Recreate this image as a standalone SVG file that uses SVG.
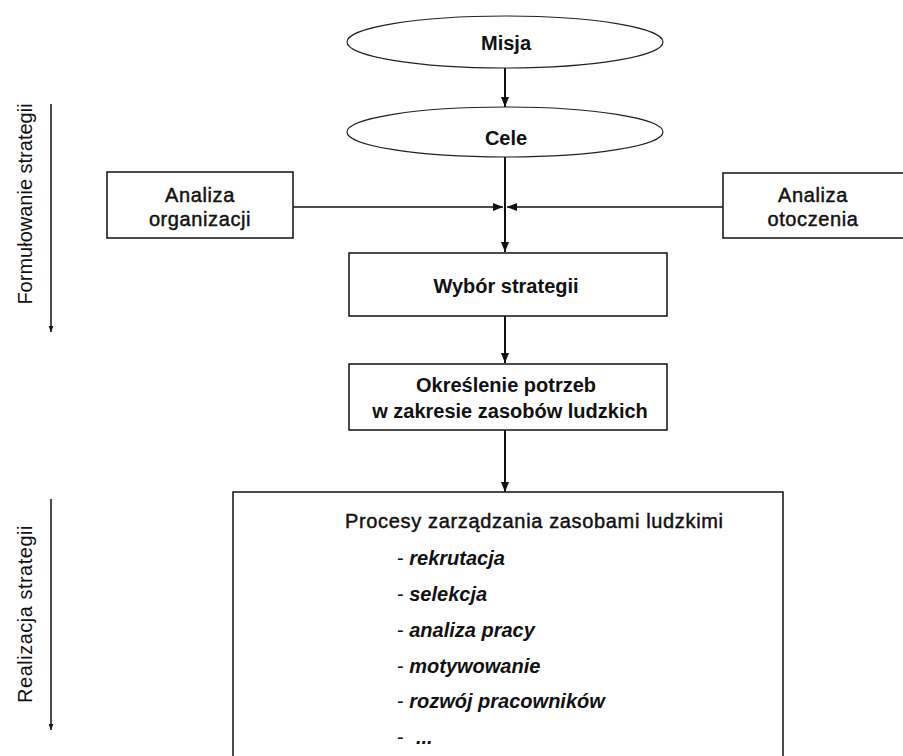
<svg xmlns="http://www.w3.org/2000/svg" width="903" height="756" viewBox="0 0 903 756">
  <style>
    .shape { fill: #fff; stroke: #111; stroke-width: 1.5; }
    .oval { fill: #fff; stroke: #222; stroke-width: 1.2; }
    .t { font-family: "Liberation Sans", Arial, sans-serif; font-size: 20px; fill: #111; }
    .b { font-weight: bold; }
    .c { text-anchor: middle; }
    .med { stroke: #111; stroke-width: 0.45; letter-spacing: 0.6px; }
    .it { font-style: italic; font-weight: bold; }
    .link { stroke: #111; stroke-width: 2; fill: none; }
    .thin { stroke: #111; stroke-width: 1.5; fill: none; }
  </style>
  <defs>
    <marker id="head" viewBox="0 0 10 10" refX="10" refY="5" markerWidth="10" markerHeight="10" markerUnits="userSpaceOnUse" orient="auto">
      <path d="M0,1 L10,5 L0,9 Z" fill="#111"/>
    </marker>
    <marker id="smallhead" viewBox="0 0 10 10" refX="10" refY="5" markerWidth="6" markerHeight="6" markerUnits="userSpaceOnUse" orient="auto">
      <path d="M0,1 L10,5 L0,9 Z" fill="#111"/>
    </marker>
  </defs>
  <rect width="903" height="756" fill="#fff"/>

  <!-- phase axes on the left -->
  <g id="axis-formulowanie">
    <line class="thin" x1="51" y1="104" x2="51" y2="332" marker-end="url(#smallhead)"/>
    <text class="t c" transform="translate(32,204) rotate(-90)">Formułowanie strategii</text>
  </g>
  <g id="axis-realizacja">
    <line class="thin" x1="51" y1="499" x2="51" y2="730" marker-end="url(#smallhead)"/>
    <text class="t c" transform="translate(32,614) rotate(-90)" style="letter-spacing:0.5px">Realizacja strategii</text>
  </g>

  <!-- connectors -->
  <g id="connectors">
    <line class="link" x1="505" y1="68" x2="505" y2="107" marker-end="url(#head)"/>
    <line class="link" x1="505" y1="157" x2="505" y2="252" marker-end="url(#head)"/>
    <line class="thin" x1="293" y1="207" x2="503" y2="207" marker-end="url(#head)"/>
    <line class="thin" x1="723" y1="207" x2="507" y2="207" marker-end="url(#head)"/>
    <line class="link" x1="505" y1="316" x2="505" y2="363" marker-end="url(#head)"/>
    <line class="link" x1="505" y1="430" x2="505" y2="492" marker-end="url(#head)"/>
  </g>

  <g id="misja">
    <ellipse class="oval" cx="505" cy="42" rx="158" ry="26"/>
    <text class="t b c" x="506" y="50">Misja</text>
  </g>

  <g id="cele">
    <ellipse class="oval" cx="505" cy="132" rx="158" ry="25"/>
    <text class="t b c" x="506" y="145">Cele</text>
  </g>

  <g id="analiza-organizacji">
    <rect class="shape" x="107" y="172" width="186" height="66"/>
    <text class="t c med" x="200" y="202">Analiza</text>
    <text class="t c med" x="200" y="226">organizacji</text>
  </g>

  <g id="analiza-otoczenia">
    <rect class="shape" x="723" y="173" width="200" height="65"/>
    <text class="t c med" x="813" y="202">Analiza</text>
    <text class="t c med" x="813" y="226">otoczenia</text>
  </g>

  <g id="wybor-strategii">
    <rect class="shape" x="349" y="253" width="318" height="63"/>
    <text class="t b c" x="506" y="293">Wybór strategii</text>
  </g>

  <g id="okreslenie-potrzeb">
    <rect class="shape" x="349" y="364" width="318" height="66"/>
    <text class="t b c" x="506" y="392">Określenie potrzeb</text>
    <text class="t b c" x="510" y="418">w zakresie zasobów ludzkich</text>
  </g>

  <g id="procesy">
    <rect class="shape" x="233" y="492" width="550" height="290"/>
    <text class="t med" x="345" y="528" style="letter-spacing:0.65px">Procesy zarządzania zasobami ludzkimi</text>
    <text class="t" x="397" y="565">- <tspan class="it">rekrutacja</tspan></text>
    <text class="t" x="397" y="601">- <tspan class="it">selekcja</tspan></text>
    <text class="t" x="397" y="637">- <tspan class="it">analiza pracy</tspan></text>
    <text class="t" x="397" y="673">- <tspan class="it">motywowanie</tspan></text>
    <text class="t" x="397" y="708">- <tspan class="it">rozwój pracowników</tspan></text>
    <text class="t" x="397" y="744">- <tspan class="it" x="416">...</tspan></text>
  </g>
</svg>
